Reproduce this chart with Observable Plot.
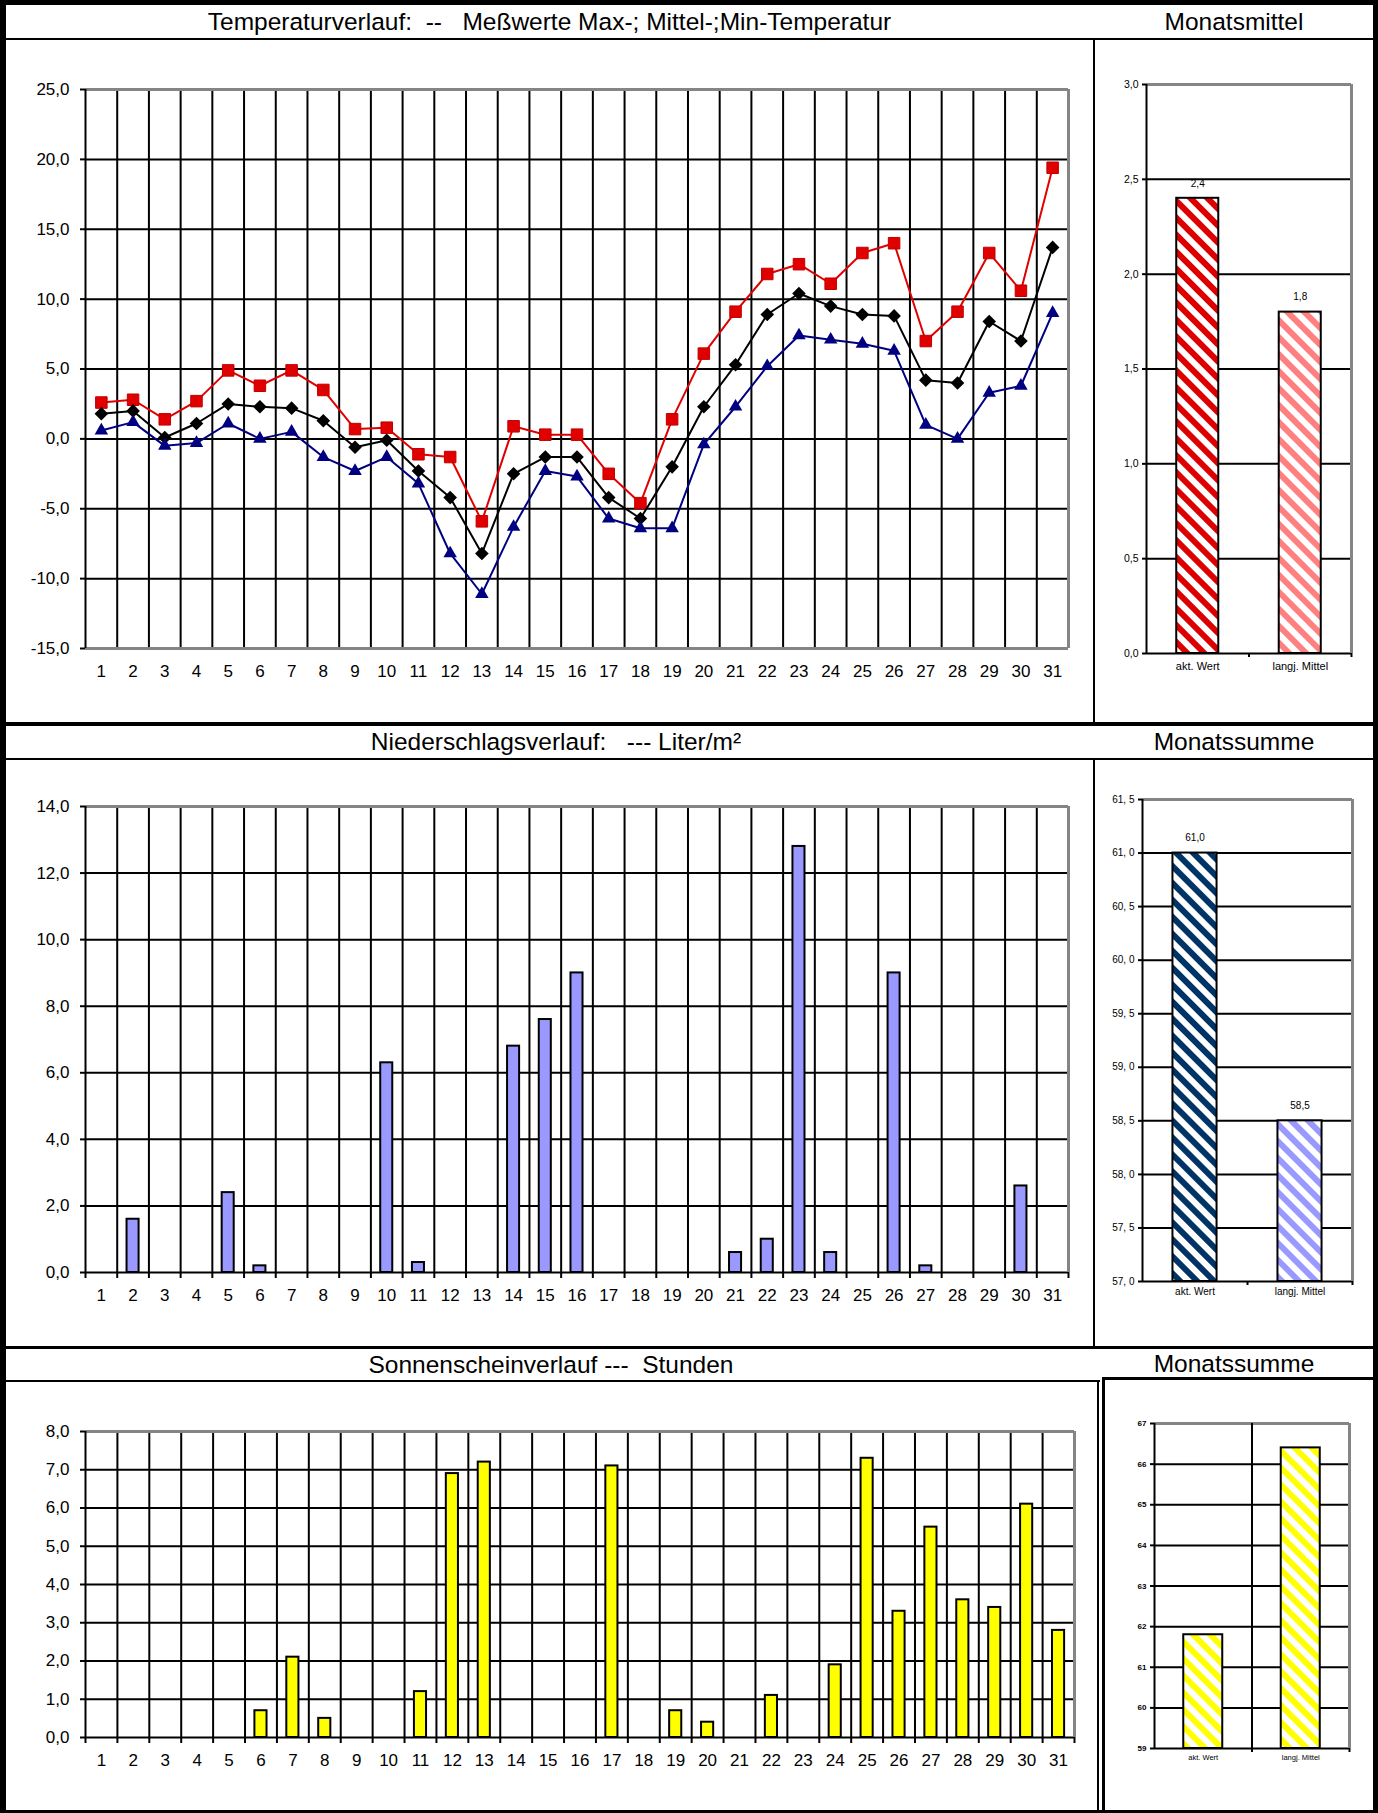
<!DOCTYPE html>
<html>
<head>
<meta charset="utf-8">
<script src="https://cdn.jsdelivr.net/npm/d3@7"></script>
<script src="https://cdn.jsdelivr.net/npm/@observablehq/plot@0.6"></script>
<style>
  body { margin: 0; background: #fff; font-family: Arial, "Liberation Sans", sans-serif; }
  #page { position: relative; width: 1378px; height: 1813px; overflow: hidden; background: #fff; }
  .ln { position: absolute; background: #000; }
  .hdr { position: absolute; font-size: 24.5px; white-space: pre; text-align: center; color: #000; }
  .chart { position: absolute; }
</style>
</head>
<body>
<svg width="0" height="0" style="position:absolute">
  <defs>
    <pattern id="hRed" width="12" height="12" patternUnits="userSpaceOnUse" patternTransform="rotate(-45)">
      <rect width="12" height="12" fill="#fff"/><rect width="6" height="12" fill="#dd0000"/>
    </pattern>
    <pattern id="hPink" width="12" height="12" patternUnits="userSpaceOnUse" patternTransform="rotate(-45)">
      <rect width="12" height="12" fill="#fff"/><rect width="6" height="12" fill="#ff8080"/>
    </pattern>
    <pattern id="hNavy" width="12" height="12" patternUnits="userSpaceOnUse" patternTransform="rotate(-45)">
      <rect width="12" height="12" fill="#fff"/><rect width="6" height="12" fill="#003366"/>
    </pattern>
    <pattern id="hLilac" width="12" height="12" patternUnits="userSpaceOnUse" patternTransform="rotate(-45)">
      <rect width="12" height="12" fill="#fff"/><rect width="6" height="12" fill="#9999ff"/>
    </pattern>
    <pattern id="hYellow" width="12" height="12" patternUnits="userSpaceOnUse" patternTransform="rotate(-45)">
      <rect width="12" height="12" fill="#fff"/><rect width="6" height="12" fill="#ffff00"/>
    </pattern>
  </defs>
</svg>
<div id="page">
  <!-- frame and separators -->
  <div class="ln" style="left:0;top:0;width:1378px;height:5px"></div>
  <div class="ln" style="left:0;top:0;width:6px;height:1813px"></div>
  <div class="ln" style="left:1373px;top:0;width:5px;height:1813px"></div>
  <div class="ln" style="left:0;top:1810px;width:1378px;height:3px"></div>
  <div class="ln" style="left:0;top:38px;width:1378px;height:2px"></div>
  <div class="ln" style="left:1093px;top:39px;width:2px;height:685px"></div>
  <div class="ln" style="left:0;top:722px;width:1378px;height:4px"></div>
  <div class="ln" style="left:0;top:758px;width:1378px;height:2px"></div>
  <div class="ln" style="left:1093px;top:759px;width:2px;height:588px"></div>
  <div class="ln" style="left:0;top:1346px;width:1378px;height:3px"></div>
  <div class="ln" style="left:0;top:1380px;width:1100px;height:2px"></div>
  <div class="ln" style="left:1102px;top:1377px;width:276px;height:3px"></div>
  <div class="ln" style="left:1097px;top:1380px;width:2px;height:433px"></div>
  <div class="ln" style="left:1102px;top:1377px;width:3px;height:436px"></div>

  <div class="hdr" style="left:6px;top:5px;width:1087px;height:33px;line-height:33px">Temperaturverlauf:  --   Meßwerte Max-; Mittel-;Min-Temperatur</div>
  <div class="hdr" style="left:1095px;top:5px;width:278px;height:33px;line-height:33px">Monatsmittel</div>
  <div class="hdr" style="left:6px;top:726px;width:1100px;height:32px;line-height:32px">Niederschlagsverlauf:   --- Liter/m²</div>
  <div class="hdr" style="left:1095px;top:726px;width:278px;height:32px;line-height:32px">Monatssumme</div>
  <div class="hdr" style="left:6px;top:1349px;width:1090px;height:31px;line-height:31px">Sonnenscheinverlauf ---  Stunden</div>
  <div class="hdr" style="left:1095px;top:1349px;width:278px;height:28px;line-height:30px">Monatssumme</div>

  <div class="chart" id="c1" style="left:0;top:39px"></div>
  <div class="chart" id="c2" style="left:1095px;top:39px"></div>
  <div class="chart" id="c3" style="left:0;top:759px"></div>
  <div class="chart" id="c4" style="left:1095px;top:759px"></div>
  <div class="chart" id="c5" style="left:0;top:1381px"></div>
  <div class="chart" id="c6" style="left:1105px;top:1381px"></div>
</div>
<script>
// ---------------- data ----------------
const days = [1,2,3,4,5,6,7,8,9,10,11,12,13,14,15,16,17,18,19,20,21,22,23,24,25,26,27,28,29,30,31];
const tMax  = [2.6, 2.8, 1.4, 2.7, 4.9, 3.8, 4.9, 3.5, 0.7, 0.8, -1.1, -1.3, -5.9, 0.9, 0.3, 0.3, -2.5, -4.6, 1.4, 6.1, 9.1, 11.8, 12.5, 11.1, 13.3, 14.0, 7.0, 9.1, 13.3, 10.6, 19.4];
const tMean = [1.8, 2.0, 0.1, 1.1, 2.5, 2.3, 2.2, 1.3, -0.6, -0.1, -2.3, -4.2, -8.2, -2.5, -1.3, -1.3, -4.2, -5.7, -2.0, 2.3, 5.3, 8.9, 10.4, 9.5, 8.9, 8.8, 4.2, 4.0, 8.4, 7.0, 13.7];
const tMin  = [0.6, 1.2, -0.5, -0.3, 1.1, 0.0, 0.5, -1.3, -2.3, -1.3, -3.2, -8.2, -11.1, -6.3, -2.3, -2.7, -5.7, -6.4, -6.4, -0.4, 2.3, 5.2, 7.4, 7.1, 6.8, 6.3, 1.0, 0.0, 3.3, 3.8, 9.0];
const precip = [0, 1.6, 0, 0, 2.4, 0.2, 0, 0, 0, 6.3, 0.3, 0, 0, 6.8, 7.6, 9.0, 0, 0, 0, 0, 0.6, 1.0, 12.8, 0.6, 0, 9.0, 0.2, 0, 0, 2.6, 0];
const sunshine = [0, 0, 0, 0, 0, 0.7, 2.1, 0.5, 0, 0, 1.2, 6.9, 7.2, 0, 0, 0, 7.1, 0, 0.7, 0.4, 0, 1.1, 0, 1.9, 7.3, 3.3, 5.5, 3.6, 3.4, 6.1, 2.8];

const summaryCats = ["akt. Wert", "langj. Mittel"];
const tempMonth = [2.4, 1.8];
const precipMonth = [61.0, 58.5];
const sunMonth = [61.8, 66.4];

const tempTicks = [-15, -10, -5, 0, 5, 10, 15, 20, 25];
const precipTicks = [0, 2, 4, 6, 8, 10, 12, 14];
const sunTicks = [0, 1, 2, 3, 4, 5, 6, 7, 8];
const tempMonthTicks = [0, 0.5, 1, 1.5, 2, 2.5, 3];
const precipMonthTicks = [57, 57.5, 58, 58.5, 59, 59.5, 60, 60.5, 61, 61.5];
const sunMonthTicks = [59, 60, 61, 62, 63, 64, 65, 66, 67];

// ---------------- helpers ----------------
const fmt1 = d => d.toFixed(1).replace(".", ",");
const fmtSp = d => d.toFixed(1).replace(".", ", ");
const bounds = [0.5, ...days.map(d => d + 0.5)];
const FONT = "Arial, 'Liberation Sans', sans-serif";
const GRAY = "#858585";

const diamond = {
  draw(ctx, size) {
    const s = Math.sqrt(size) * 0.8;
    ctx.moveTo(0, -s); ctx.lineTo(s, 0); ctx.lineTo(0, s); ctx.lineTo(-s, 0); ctx.closePath();
  }
};

function frameMarks(yTicks, bottomBlack, xMax) {
  const top = yTicks[yTicks.length - 1], bottom = yTicks[0];
  const inner = yTicks.filter(t => t !== top && (bottomBlack || t !== bottom));
  const m = [
    Plot.ruleY(inner, {stroke: "#000", strokeWidth: 2}),
    Plot.ruleY([top], {stroke: GRAY, strokeWidth: 3}),
    Plot.ruleX([xMax], {stroke: GRAY, strokeWidth: 3})
  ];
  if (!bottomBlack) m.push(Plot.ruleY([bottom], {stroke: GRAY, strokeWidth: 3}));
  return m;
}

function dailyChart({width, height, mt, mb, mr, yTicks, bottomBlack, data}) {
  const yDomain = [yTicks[0], yTicks[yTicks.length - 1]];
  const marks = [
    Plot.ruleX(bounds.slice(1, -1), {stroke: "#000", strokeWidth: 2}),
    ...frameMarks(yTicks, bottomBlack, 31.5),
    ...data,
    Plot.ruleX([0.5], {stroke: "#000", strokeWidth: 2}),
    Plot.axisY({ticks: yTicks, tickSize: 5, tickPadding: 11, tickFormat: fmt1, fontSize: 17, strokeWidth: 2}),
    Plot.axisX({ticks: days, tickSize: 0, tickPadding: 16, tickFormat: d => String(d), fontSize: 17})
  ];
  if (bottomBlack) marks.push(Plot.axisX({ticks: bounds, tickSize: 6, tickFormat: () => "", strokeWidth: 2}));
  return Plot.plot({
    width, height, marginLeft: 85, marginRight: mr, marginTop: mt, marginBottom: mb,
    x: {domain: [0.5, 31.5], label: null},
    y: {domain: yDomain, label: null},
    style: {fontFamily: FONT, color: "#000", background: "transparent", overflow: "visible"},
    marks
  });
}

function monthChart({width, height, ml, mr, mt, mb, yTicks, tickFmt, values, fills, hw, valueLabels, midLine, tickFont, tickWeight, catFont, catPad}) {
  const yDomain = [yTicks[0], yTicks[yTicks.length - 1]];
  const rows = values.map((v, i) => ({i: i + 1, cat: summaryCats[i], v}));
  const marks = [
    ...frameMarks(yTicks, true, 2.5)
  ];
  if (midLine) marks.push(Plot.ruleX([1.5], {stroke: "#000", strokeWidth: 2}));
  rows.forEach((r, k) => {
    marks.push(Plot.rect([r], {x1: d => d.i - hw, x2: d => d.i + hw, y1: yDomain[0], y2: "v",
      fill: fills[k], stroke: "#000", strokeWidth: 2}));
  });
  if (valueLabels) marks.push(Plot.text(rows, {x: "i", y: "v", text: d => fmt1(d.v), dy: -15, fontSize: 10, fill: "#000"}));
  marks.push(
    Plot.ruleX([0.5], {stroke: "#000", strokeWidth: 2}),
    Plot.axisY({ticks: yTicks, tickSize: 4, tickPadding: 4, tickFormat: tickFmt, fontSize: tickFont, fontWeight: tickWeight, strokeWidth: 2}),
    Plot.axisX({ticks: [1, 2], tickSize: 0, tickPadding: catPad, tickFormat: i => summaryCats[i - 1], fontSize: catFont}),
    Plot.axisX({ticks: [1.5, 2.5], tickSize: 4, tickFormat: () => "", strokeWidth: 2})
  );
  return Plot.plot({
    width, height, marginLeft: ml, marginRight: mr, marginTop: mt, marginBottom: mb,
    x: {domain: [0.5, 2.5], label: null},
    y: {domain: yDomain, label: null},
    style: {fontFamily: FONT, color: "#000", background: "transparent", overflow: "visible"},
    marks
  });
}

// ---------------- temperature ----------------
const tempRows = days.flatMap((d, i) => [
  {day: d, series: "Max", v: tMax[i]},
  {day: d, series: "Mittel", v: tMean[i]},
  {day: d, series: "Min", v: tMin[i]}
]);
const ser = s => d => d.series === s;
document.getElementById("c1").append(dailyChart({
  width: 1093, height: 685, mt: 50, mb: 76, mr: 25, yTicks: tempTicks, bottomBlack: false,
  data: [
    Plot.line(tempRows, {filter: ser("Max"), x: "day", y: "v", stroke: "#e00000", strokeWidth: 2}),
    Plot.dot(tempRows, {filter: ser("Max"), x: "day", y: "v", symbol: "square", r: 6.5, fill: "#e00000", stroke: "#c00000", strokeWidth: 1}),
    Plot.line(tempRows, {filter: ser("Mittel"), x: "day", y: "v", stroke: "#000", strokeWidth: 2}),
    Plot.dot(tempRows, {filter: ser("Mittel"), x: "day", y: "v", symbol: diamond, r: 4.8, fill: "#000"}),
    Plot.line(tempRows, {filter: ser("Min"), x: "day", y: "v", stroke: "#000080", strokeWidth: 2}),
    Plot.dot(tempRows, {filter: ser("Min"), x: "day", y: "v", symbol: "triangle", r: 5, fill: "#000080"})
  ]
}));
document.getElementById("c2").append(monthChart({
  width: 278, height: 685, ml: 51, mr: 22, mt: 45, mb: 71, yTicks: tempMonthTicks, tickFmt: fmt1,
  values: tempMonth, fills: ["url(#hRed)", "url(#hPink)"], hw: 0.205, valueLabels: true,
  midLine: false, tickFont: 10.5, tickWeight: "normal", catFont: 11, catPad: 9
}));

// ---------------- precipitation ----------------
const precipRows = days.map((d, i) => ({day: d, v: precip[i]})).filter(d => d.v > 0);
document.getElementById("c3").append(dailyChart({
  width: 1093, height: 588, mt: 47, mb: 75, mr: 25, yTicks: precipTicks, bottomBlack: true,
  data: [
    Plot.rect(precipRows, {x1: d => d.day - 0.19, x2: d => d.day + 0.19, y1: 0, y2: "v", fill: "#9999ff", stroke: "#000", strokeWidth: 2})
  ]
}));
document.getElementById("c4").append(monthChart({
  width: 278, height: 588, ml: 47, mr: 21, mt: 40, mb: 66, yTicks: precipMonthTicks, tickFmt: fmtSp,
  values: precipMonth, fills: ["url(#hNavy)", "url(#hLilac)"], hw: 0.21, valueLabels: true,
  midLine: false, tickFont: 10, tickWeight: "normal", catFont: 10, catPad: 6
}));

// ---------------- sunshine ----------------
const sunRows = days.map((d, i) => ({day: d, v: sunshine[i]})).filter(d => d.v > 0);
document.getElementById("c5").append(dailyChart({
  width: 1097, height: 432, mt: 50, mb: 76, mr: 23, yTicks: sunTicks, bottomBlack: true,
  data: [
    Plot.rect(sunRows, {x1: d => d.day - 0.19, x2: d => d.day + 0.19, y1: 0, y2: "v", fill: "#ffff00", stroke: "#000", strokeWidth: 2})
  ]
}));
document.getElementById("c6").append(monthChart({
  width: 268, height: 432, ml: 49, mr: 24, mt: 42, mb: 65, yTicks: sunMonthTicks, tickFmt: d => String(d),
  values: sunMonth, fills: ["url(#hYellow)", "url(#hYellow)"], hw: 0.2, valueLabels: false,
  midLine: true, tickFont: 8, tickWeight: "bold", catFont: 7.5, catPad: 6
}));
</script>
</body>
</html>
